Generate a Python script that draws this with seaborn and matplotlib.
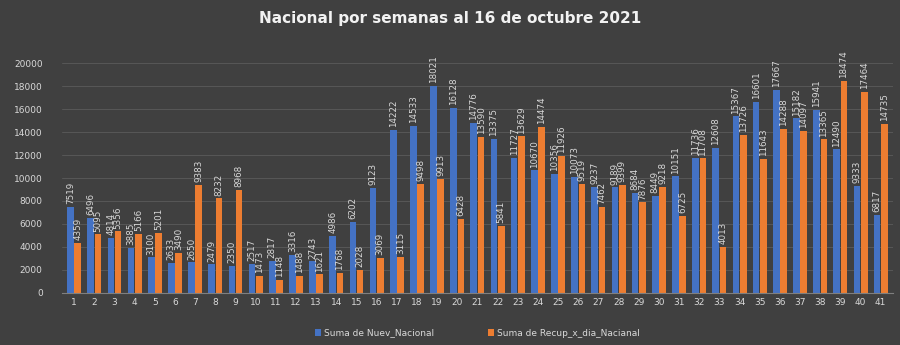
import matplotlib
matplotlib.use("Agg")
import matplotlib.pyplot as plt
import seaborn as sns
import pandas as pd

weeks = [str(i) for i in range(1, 42)]
nuevos = [7519, 6496, 4814, 3885, 3100, 2633, 2650, 2479, 2350, 2517, 2817, 3316, 2743, 4986,
          6202, 9123, 14222, 14533, 18021, 16128, 14776, 13375, 11727, 10670, 10356, 10073,
          9237, 9189, 8684, 8449, 10151, 11736, 12608, 15367, 16601, 17667, 15182, 15941,
          12490, 9333, 6817]
recup = [4359, 5095, 5356, 5166, 5201, 3490, 9383, 8232, 8968, 1473, 1148, 1488, 1621, 1768,
         2028, 3069, 3115, 9498, 9913, 6428, 13590, 5841, 13629, 14474, 11926, 9519, 7462,
         9399, 7876, 9218, 6725, 11708, 4013, 13726, 11643, 14288, 14097, 13365, 18474,
         17464, 14735]
series_names = ["Suma de Nuev_Nacional", "Suma de Recup_x_dia_Nacianal"]
title = "Nacional por semanas al 16 de octubre 2021"

df = pd.DataFrame({
    "semana": weeks * 2,
    "valor": nuevos + recup,
    "serie": [series_names[0]] * len(weeks) + [series_names[1]] * len(weeks),
})

bg = "#404040"
txt = "#d9d9d9"
sns.set_style("dark")
plt.rcParams["font.family"] = ["DejaVu Sans"]

fig = plt.figure(figsize=(9, 3.45), dpi=100, facecolor=bg)
ax = fig.add_axes([0.069, 0.151, 0.923, 0.666])
ax.set_facecolor(bg)

sns.barplot(data=df, x="semana", y="valor", hue="serie", order=weeks,
            hue_order=series_names, palette=["#4472C4", "#ED7D31"],
            width=0.72, gap=0.08, saturation=1, linewidth=0, edgecolor="none",
            ax=ax, legend=True)

for cont in ax.containers:
    ax.bar_label(cont, rotation=90, padding=2, fontsize=6.3, color=txt)

ax.set_ylim(0, 20000)
ax.set_yticks(range(0, 20001, 2000))
ax.set_xlim(-0.6, 40.6)
ax.yaxis.grid(True, color="#575757", linewidth=0.7)
ax.set_axisbelow(True)
ax.tick_params(axis="both", colors=txt, labelsize=6.5, length=0)
ax.tick_params(axis="y", pad=14)
ax.set_xlabel("")
ax.set_ylabel("")
for s in ["top", "right", "left"]:
    ax.spines[s].set_visible(False)
ax.spines["bottom"].set_color("#7f7f7f")
ax.spines["bottom"].set_linewidth(0.8)

leg = ax.legend(loc="upper center", bbox_to_anchor=(0.5, -0.12), ncol=2, frameon=False,
                fontsize=6.5, handlelength=0.7, handleheight=0.7, columnspacing=6,
                handletextpad=0.3)
for t in leg.get_texts():
    t.set_color(txt)

fig.text(0.5, 0.945, title, ha="center", va="center", fontsize=11, fontweight="bold",
         color="#f2f2f2")

fig.savefig("out.png", dpi=100, facecolor=bg)
